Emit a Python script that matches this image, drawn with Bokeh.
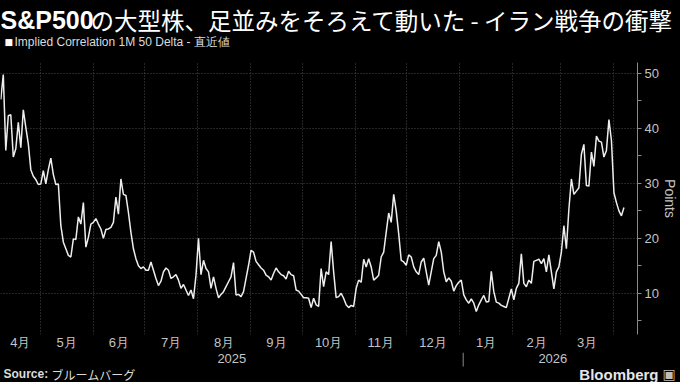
import numpy as np
import pandas as pd
from bokeh.plotting import figure
from bokeh.layouts import column
from bokeh.models import Range1d, FixedTicker, Label
from bokeh.core.properties import value
from bokeh.embed import file_html
from bokeh.resources import INLINE

# ---------------- data ----------------
start_date = "2025-04-08"
end_date = "2026-04-07"
values = [
    45.3, 49.8, 36.0, 42.3, 42.5, 34.8, 36.3, 41.1, 36.5, 43.4,
    40.2, 37.2, 32.5, 31.3, 30.7, 29.8, 29.9, 32.3, 29.9, 32.5,
    34.6, 31.6, 29.8, 29.9, 22.3, 19.3, 18.1, 16.9, 16.6, 19.9,
    19.8, 23.9, 22.6, 26.5, 18.4, 20.2, 22.6, 22.9, 23.6, 22.6,
    21.7, 20.0, 21.6, 21.7,
    22.0, 22.9, 27.5, 24.4, 30.8, 28.0, 27.8, 24.7, 21.1, 18.1,
    16.3, 15.0, 14.5, 14.8, 14.2, 14.2, 15.7, 14.2, 12.7, 11.4,
    12.2, 13.9, 14.6, 14.2, 12.7, 13.0, 13.4, 12.4, 10.9, 11.6,
    10.6, 9.6, 10.6, 9.0, 13.3, 20.0, 13.4, 16.0, 14.5,
    13.9, 10.9,
    13.0, 10.9, 9.2, 9.8, 10.3, 11.2, 12.1, 13.0, 15.6, 9.7,
    9.8, 9.4, 10.3, 12.7, 15.1, 17.8, 17.5, 15.8, 15.2, 14.6,
    14.2, 13.3, 13.0, 12.4, 13.6, 14.6, 13.9, 13.4, 13.2, 12.6,
    14.0, 13.4, 13.2, 10.6, 10.4, 9.8, 9.2, 9.2, 9.1, 7.4, 9.1, 7.9,
    7.6, 14.5, 11.2, 13.9, 13.4, 19.4, 13.9, 9.2, 9.4, 10.0,
    9.1, 7.9, 7.4, 7.8, 7.6, 10.9, 12.4, 12.0, 16.2, 14.8,
    16.3, 14.8, 12.4, 12.8, 13.3, 16.6, 17.5, 21.1, 24.6, 22.9,
    28.0, 25.0, 20.8, 16.0, 15.7, 15.1, 17.0, 16.6, 14.8, 13.9,
    13.4, 15.7,
    16.4, 13.9, 11.5, 13.9, 16.3, 16.9, 19.4, 17.5, 13.9, 12.1,
    12.8, 12.2, 10.4, 11.4, 12.0, 12.4, 9.7, 8.8, 8.2, 9.0,
    8.2, 6.7, 7.9, 8.8, 9.6, 8.4, 8.5, 14.0, 10.3, 8.4,
    8.2, 7.8, 7.6, 7.4, 9.1, 10.8, 8.8, 10.9, 11.8, 17.2,
    11.8, 11.2,
    12.4, 11.8, 15.8, 16.0, 16.2, 15.4, 16.3, 13.9, 17.0, 13.9,
    10.8, 13.9, 14.8, 17.5, 22.3, 18.1, 25.3, 30.8, 28.0, 28.6,
    29.2, 35.3, 37.1, 29.6, 29.5, 35.7, 33.1, 38.6, 37.7, 37.5,
    34.8, 36.0, 41.6, 37.8, 28.3, 26.5, 25.0, 24.1, 25.6,
]
month_starts = ["2025-04-01", "2025-05-01", "2025-06-01", "2025-07-01", "2025-08-01",
                "2025-09-01", "2025-10-01", "2025-11-01", "2025-12-01", "2026-01-01",
                "2026-02-01", "2026-03-01", "2026-04-01"]
month_labels = ["4月", "5月", "6月", "7月", "8月", "9月", "10月", "11月", "12月",
                "1月", "2月", "3月"]
year_labels = ["2025", "2026"]
year_split = "2026-01-01"
y_major = [10, 20, 30, 40, 50]
y_minor = [5, 15, 25, 35, 45]

title_latin = "S&P500"
title_jp = "の大型株、足並みをそろえて動いた - イラン戦争の衝撃"
legend_text = "Implied Correlation 1M 50 Delta - 直近値"
source_label = "Source:"
source_text = "ブルームバーグ"
brand = "Bloomberg"

# ---------------- geometry / style ----------------
W = 680
HDR_H, MAIN_H, FTR_H = 62, 290, 30
B_BOTTOM, B_RIGHT = 15, 38
x_start = pd.Timestamp("2025-04-07 20:00")
x_end = pd.Timestamp("2026-04-14 22:00")
FRAME_W = W - B_RIGHT

AX = "'Liberation Sans', sans-serif"
JP = "'Noto Sans CJK JP', sans-serif"
GRID = "#4a4a4a"
LBL = "#c4c4c4"
TXT = "#dcdcdc"


def ms(t):
    return int(pd.Timestamp(t).value // 10**6)


def no_align(f):
    try:
        f.frame_align = False
    except Exception:
        pass


dates = pd.to_datetime(np.linspace(pd.Timestamp(start_date).value,
                                   pd.Timestamp(end_date).value, len(values)))


def blank(h, xr, yr):
    f = figure(width=W, height=h, x_range=xr, y_range=yr, output_backend="svg",
               toolbar_location=None, x_axis_location=None, y_axis_location=None,
               min_border=0, background_fill_color="black", border_fill_color="black")
    f.outline_line_color = None
    f.grid.visible = False
    no_align(f)
    return f


def lab(f, text, cx, y, size, color, font, bold=False, align="left"):
    f.add_layout(Label(x=cx, y=y, x_units="screen", y_units="data",
                       text=text, text_font_size=f"{size}px", text_color=color,
                       text_font=font, text_font_style="bold" if bold else "normal",
                       text_baseline="middle", text_align=align))


# ---------------- header ----------------
hdr = blank(HDR_H, Range1d(0, W), Range1d(HDR_H, 0))   # y measured from top
lab(hdr, title_latin, 0, 19, 25, "white", "'Liberation Sans', sans-serif", bold=True)
lab(hdr, title_jp, 90, 19, 23.5, "white", JP)
lab(hdr, "■", 4, 41, 9, "white", "'DejaVu Sans', sans-serif")
lab(hdr, legend_text, 14, 41, 12, TXT, AX)

# ---------------- main chart ----------------
p = figure(width=W, height=MAIN_H, x_axis_type="datetime", y_axis_location="right",
           output_backend="svg", toolbar_location=None,
           x_range=Range1d(x_start, x_end), y_range=Range1d(2.5, 52),
           min_border_top=0, min_border_bottom=B_BOTTOM,
           min_border_left=0, min_border_right=B_RIGHT,
           background_fill_color="black", border_fill_color="black")
p.outline_line_color = None
no_align(p)

p.line(dates, values, line_color="#eeeeee", line_width=1.5)

boundaries = [ms(m) for m in month_starts[1:]]
p.xgrid.ticker = FixedTicker(ticks=boundaries)
p.ygrid.ticker = FixedTicker(ticks=y_major)
for g in (p.xgrid, p.ygrid):
    g.grid_line_color = GRID
    g.grid_line_dash = "1 2"
    g.grid_line_width = 1

ya = p.yaxis[0]
ya.ticker = FixedTicker(ticks=y_major, minor_ticks=y_minor)
ya.axis_line_color = "#8a8a8a"
ya.major_tick_line_color = "#8a8a8a"
ya.minor_tick_line_color = "#8a8a8a"
ya.major_tick_in = 0
ya.minor_tick_in = 0
ya.major_tick_out = 4
ya.minor_tick_out = 4
ya.major_label_standoff = 3
ya.major_label_text_font = AX
ya.major_label_text_font_size = "13px"
ya.major_label_text_color = LBL
ya.axis_label = "Points"
ya.axis_label_text_font = AX
ya.axis_label_text_font_size = "14px"
ya.axis_label_text_font_style = "normal"
ya.axis_label_text_color = LBL
ya.axis_label_standoff = 0

xs = ms(x_start)
mids = []
for a, b in zip(month_starts[:-1], month_starts[1:]):
    lo = max(ms(a), xs)
    mids.append((lo + ms(b)) // 2)
xa = p.xaxis[0]
xa.ticker = FixedTicker(ticks=mids)
xa.major_label_overrides = {m: lab_ for m, lab_ in zip(mids, month_labels)}
xa.axis_line_color = None
xa.major_tick_line_color = None
xa.minor_tick_line_color = None
xa.major_tick_out = 0
xa.major_tick_in = 0
xa.major_label_standoff = 0
xa.major_label_text_font = AX
xa.major_label_text_font_size = "13px"
xa.major_label_text_color = LBL

# ---------------- footer (years, separator, source) ----------------
span_ms = ms(x_end) - xs
ftr_xr = Range1d(xs, xs + span_ms * W / FRAME_W)     # same date scale as main frame
ftr = blank(FTR_H, ftr_xr, Range1d(0, FTR_H))         # y measured from bottom
split = ms(year_split)
ymids = [(xs + split) // 2, (split + ms(x_end)) // 2]
ftr.text(x=ymids, y=[24, 24], text=year_labels, text_font=value("Liberation Sans"),
         text_font_size="13px", text_color=LBL, text_align="center", text_baseline="middle")
ftr.segment(x0=[split], y0=[16], x1=[split], y1=[FTR_H], line_color="#8a8a8a", line_width=1)
lab(ftr, source_label, 3, 8.5, 12, TXT, AX, bold=True)
lab(ftr, source_text, 51, 8.5, 12, TXT, JP)
lab(ftr, brand, 658, 8.5, 15, "#e6e6e6", AX, bold=True, align="right")
lab(ftr, "▣", 662, 8.5, 14, "#bdbdbd", "'DejaVu Sans', sans-serif")

layout = column(hdr, p, ftr, spacing=0)

html = file_html(layout, INLINE, title="chart")
i = html.rfind("</head>")
html = html[:i] + "<style>html,body{margin:0;padding:0;background:#000;overflow:hidden;}</style>" + html[i:]
open("out.html", "w").write(html)
